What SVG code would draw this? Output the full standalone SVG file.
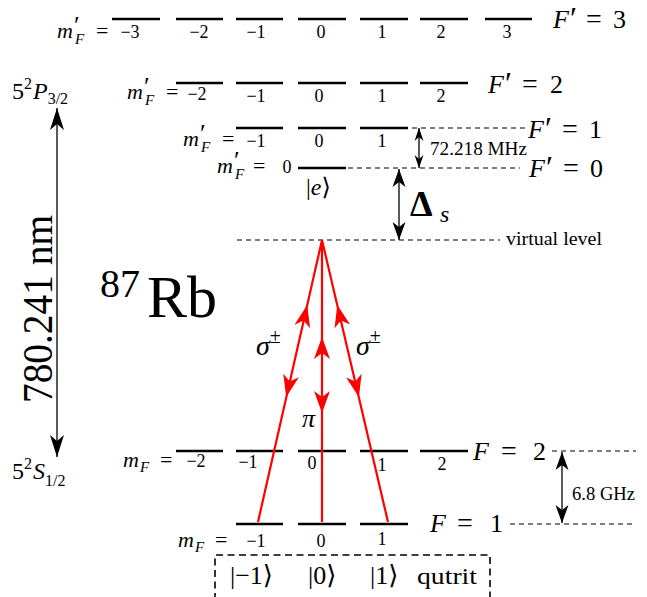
<svg xmlns="http://www.w3.org/2000/svg" width="647" height="597" viewBox="0 0 647 597" font-family="'Liberation Serif', 'DejaVu Serif', serif">
<style>
text { font-family: "Liberation Serif", "DejaVu Serif", serif; fill: #000; }
.lv { stroke: #000; stroke-width: 2.5; fill: none; }
.dash { stroke: #000; stroke-width: 1.2; stroke-dasharray: 5 4; fill: none; }
.box { stroke: #000; stroke-width: 1.6; stroke-dasharray: 7 4.5; fill: none; }
.it { font-style: italic; }
.num { font-size: 18px; text-anchor: middle; }
.lab { font-size: 22px; }
.sub { font-size: 15px; }
.pr { font-size: 26px; }
.Fpr { font-size: 32px; }
.Fl { font-size: 26px; }
.red { stroke: #ff0000; stroke-width: 2.2; fill: none; }
.blk { stroke: #000; stroke-width: 1.3; fill: none; }
</style>
<defs>
<path id="rh" d="M0,0 L-22,-8 L-16,0 L-22,8 Z" fill="#ff0000"/>
<marker id="bh" markerUnits="userSpaceOnUse" viewBox="-19 -8 20 16" refX="0" refY="0" markerWidth="20" markerHeight="16" orient="auto-start-reverse"><path d="M0,0 L-18,-6.5 L-13,0 L-18,6.5 Z" fill="#000"/></marker>
<marker id="bhs" markerUnits="userSpaceOnUse" viewBox="-14 -6 15 12" refX="0" refY="0" markerWidth="15" markerHeight="12" orient="auto-start-reverse"><path d="M0,0 L-13,-4.5 L-9,0 L-13,4.5 Z" fill="#000"/></marker>
<marker id="bhl" markerUnits="userSpaceOnUse" viewBox="-23 -8 24 16" refX="0" refY="0" markerWidth="24" markerHeight="16" orient="auto-start-reverse"><path d="M0,0 L-22,-7 L-16,0 L-22,7 Z" fill="#000"/></marker>
</defs>

<!-- F'=3 manifold -->
<g id="Fp3">
  <path class="lv" d="M112,19H160 M176,19H223 M236,19H283 M298,19H346 M360,19H408 M420,19H468 M485,19H532"/>
  <text class="lab"><tspan class="it" x="57" y="38">m</tspan><tspan class="pr" x="74" y="34">′</tspan><tspan class="it sub" x="75" y="44">F</tspan><tspan x="96" y="38">=</tspan></text>
  <text class="num" y="38"><tspan x="130">−3</tspan><tspan x="199">−2</tspan><tspan x="256">−1</tspan><tspan x="321">0</tspan><tspan x="382">1</tspan><tspan x="441">2</tspan><tspan x="507">3</tspan></text>
  <text class="Fl"><tspan class="it" x="553" y="28">F</tspan><tspan class="Fpr" x="570" y="29">′</tspan><tspan x="586" y="28" font-size="28">=</tspan><tspan x="613" y="28">3</tspan></text>
</g>

<!-- F'=2 manifold -->
<g id="Fp2">
  <path class="lv" d="M176,83H223 M236,83H283 M298,83H346 M360,83H408 M420,83H468"/>
  <text class="lab"><tspan class="it" x="127" y="99">m</tspan><tspan class="pr" x="144" y="95">′</tspan><tspan class="it sub" x="145" y="105">F</tspan><tspan x="166" y="99">=</tspan></text>
  <text class="num"><tspan x="197" y="100">−2</tspan><tspan x="256" y="102">−1</tspan><tspan x="319" y="102">0</tspan><tspan x="382" y="102">1</tspan><tspan x="441" y="102">2</tspan></text>
  <text class="Fl"><tspan class="it" x="488" y="93">F</tspan><tspan class="Fpr" x="505" y="94">′</tspan><tspan x="522" y="93" font-size="28">=</tspan><tspan x="550" y="93">2</tspan></text>
</g>

<!-- F'=1 manifold -->
<g id="Fp1">
  <path class="lv" d="M236,128H283 M298,128H346 M360,128H408"/>
  <path class="dash" d="M412,128H526"/>
  <text class="lab"><tspan class="it" x="183" y="146">m</tspan><tspan class="pr" x="200" y="142">′</tspan><tspan class="it sub" x="201" y="152">F</tspan><tspan x="222" y="146">=</tspan></text>
  <text class="num" y="147"><tspan x="256">−1</tspan><tspan x="319">0</tspan><tspan x="382">1</tspan></text>
  <text class="Fl"><tspan class="it" x="528" y="138">F</tspan><tspan class="Fpr" x="545" y="139">′</tspan><tspan x="562" y="138" font-size="28">=</tspan><tspan x="589" y="138">1</tspan></text>
</g>

<!-- F'=0 manifold -->
<g id="Fp0">
  <path class="lv" d="M298,168H346"/>
  <path class="dash" d="M348,168H520"/>
  <text class="lab"><tspan class="it" x="217" y="173">m</tspan><tspan class="pr" x="234" y="169">′</tspan><tspan class="it sub" x="235" y="179">F</tspan><tspan x="253" y="173">=</tspan></text>
  <text class="num" x="287" y="173">0</text>
  <text x="306" y="195" font-size="24">|<tspan class="it">e</tspan>⟩</text>
  <text class="Fl"><tspan class="it" x="529" y="177">F</tspan><tspan class="Fpr" x="546" y="178">′</tspan><tspan x="563" y="177" font-size="28">=</tspan><tspan x="590" y="177">0</tspan></text>
</g>

<!-- virtual level -->
<g id="virtual">
  <path class="dash" d="M237,240H500"/>
  <text x="506" y="245" font-size="18" textLength="96" lengthAdjust="spacingAndGlyphs">virtual level</text>
</g>

<!-- F=2 ground manifold -->
<g id="F2">
  <path class="lv" d="M176,451H223 M236,451H283 M298,451H346 M360,451H408 M420,451H468"/>
  <path class="dash" d="M552,451H636"/>
  <text class="lab"><tspan class="it" x="123" y="467">m</tspan><tspan class="it sub" x="140" y="472">F</tspan><tspan x="160" y="467">=</tspan></text>
  <text class="num"><tspan x="196" y="467">−2</tspan><tspan x="248" y="468">−1</tspan><tspan x="312" y="469">0</tspan><tspan x="382" y="471">1</tspan><tspan x="442" y="470">2</tspan></text>
  <text class="Fl"><tspan class="it" x="473" y="460">F</tspan><tspan x="501" y="460" font-size="28">=</tspan><tspan x="533" y="460">2</tspan></text>
</g>

<!-- F=1 ground manifold -->
<g id="F1">
  <path class="lv" d="M236,524H283 M298,524H346 M360,524H408"/>
  <path class="dash" d="M510,524H636"/>
  <text class="lab"><tspan class="it" x="178" y="547">m</tspan><tspan class="it sub" x="195" y="552">F</tspan><tspan x="215" y="547">=</tspan></text>
  <text class="num"><tspan x="256" y="547">−1</tspan><tspan x="321" y="547">0</tspan><tspan x="382" y="545">1</tspan></text>
  <text class="Fl"><tspan class="it" x="430" y="532">F</tspan><tspan x="457" y="532" font-size="28">=</tspan><tspan x="490" y="532">1</tspan></text>
</g>

<!-- qutrit box -->
<g id="qutrit">
  <path class="box" d="M215,600V555H490V600"/>
  <text font-size="26" y="584"><tspan x="230">|−1⟩</tspan><tspan x="308">|0⟩</tspan><tspan x="370">|1⟩</tspan></text>
  <text x="417" y="584" font-size="23" textLength="60" lengthAdjust="spacingAndGlyphs">qutrit</text>
</g>

<!-- term labels -->
<g id="terms">
  <text font-size="24"><tspan x="12" y="99">5</tspan><tspan font-size="16" y="89">2</tspan><tspan class="it" y="99" dx="1">P</tspan><tspan font-size="16" y="104">3/2</tspan></text>
  <text font-size="24"><tspan x="12" y="479">5</tspan><tspan font-size="16" y="469">2</tspan><tspan class="it" y="479" dx="1">S</tspan><tspan font-size="16" y="486">1/2</tspan></text>
  <text transform="translate(52,309) rotate(-90)" font-size="42" text-anchor="middle" textLength="188" lengthAdjust="spacingAndGlyphs">780.241 nm</text>
</g>

<g id="atom">
  <text><tspan x="100" y="297" font-size="40">87</tspan><tspan x="147" y="317" font-size="60">Rb</tspan></text>
</g>

<!-- connectors -->
<g id="connectors">
  <line class="blk" x1="57" y1="108" x2="57" y2="457" marker-start="url(#bhl)" marker-end="url(#bhl)"/>
  <line class="blk" x1="419" y1="128" x2="419" y2="168" marker-start="url(#bhs)" marker-end="url(#bhs)"/>
  <line class="blk" x1="399" y1="169" x2="399" y2="240" marker-start="url(#bh)" marker-end="url(#bh)"/>
  <line class="blk" x1="562" y1="452" x2="562" y2="523" marker-start="url(#bh)" marker-end="url(#bh)"/>

  <path class="red" d="M258,522 L322,240 L388,522 M322,240 V522"/>
  <use href="#rh" transform="translate(307.2,305) rotate(-77.17)"/>
  <use href="#rh" transform="translate(286.2,397) rotate(102.83)"/>
  <use href="#rh" transform="translate(337.3,305) rotate(-103.22)"/>
  <use href="#rh" transform="translate(358.9,397) rotate(76.78)"/>
  <use href="#rh" transform="translate(322,337) rotate(-90)"/>
  <use href="#rh" transform="translate(322,413) rotate(90)"/>
</g>

<g id="connector-labels">
  <text x="430" y="155" font-size="18" textLength="97" lengthAdjust="spacingAndGlyphs">72.218 MHz</text>
  <text><tspan x="410" y="216" font-size="36" font-weight="bold">Δ</tspan><tspan class="it" x="440" y="222" font-size="24">s</tspan></text>
  <text x="572" y="500" font-size="18" textLength="63" lengthAdjust="spacingAndGlyphs">6.8 GHz</text>
  <text font-size="28"><tspan class="it" x="256" y="355">σ</tspan><tspan font-size="20" y="343">±</tspan></text>
  <text font-size="28"><tspan class="it" x="356" y="355">σ</tspan><tspan font-size="20" y="343">±</tspan></text>
  <text class="it" x="302" y="427" font-size="26">π</text>
</g>
</svg>
